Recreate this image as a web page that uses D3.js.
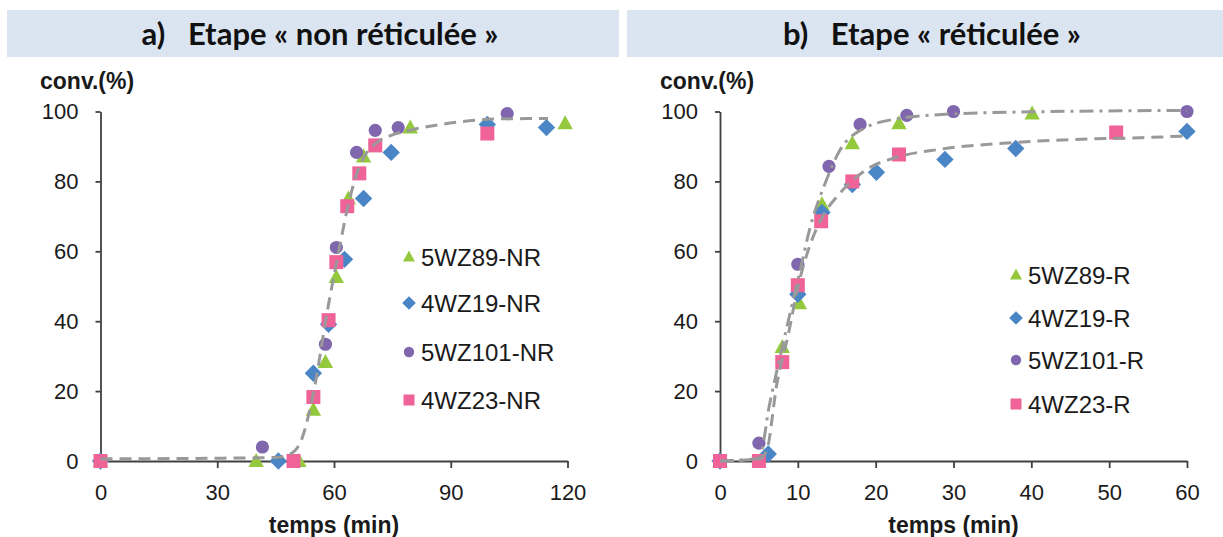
<!DOCTYPE html>
<html>
<head>
<meta charset="utf-8">
<script src="https://cdn.jsdelivr.net/npm/d3@7"></script>
<style>
  html, body { margin: 0; padding: 0; background: #ffffff; }
  svg { display: block; }
  text { white-space: pre; }
</style>
</head>
<body>
<svg id="chart" width="1223" height="537"></svg>
<script>
// ---------------- DATA ----------------
// Panel a) "non réticulée"  : [temps (min), conv. (%)]
const nr5WZ89  = [[0,0],[40,0],[51,0],[54.7,14.6],[57.8,28.3],[60.6,52.6],[63.7,75.1],[67.6,87.1],[79.6,95.4],[119.4,96.6]];
const nr4WZ19  = [[0,0],[45.7,0],[54.7,25.1],[58.6,39.1],[62.7,57.7],[67.6,75.1],[74.7,88.3],[99.4,96.3],[114.6,95.4]];
const nr5WZ101 = [[0,0],[41.6,4.0],[57.8,33.4],[60.6,61.1],[65.8,88.3],[70.6,94.6],[76.5,95.4],[104.5,99.4]];
const nr4WZ23  = [[0,0],[49.6,0],[54.7,18.3],[58.6,40.3],[60.6,56.9],[63.4,72.9],[66.5,82.3],[70.6,90.3],[99.4,93.7]];
// fitted curve drawn in panel a) (dashed)
const nrFit    = [[0,0.6],[30,0.8],[45,1.0],[48,1.6],[51,4.5],[54.7,19.4],[58.3,43],[61.4,61],[63.5,72.5],[65.8,82],[68,87.5],[70.9,91],[75,93.3],[79.4,94.6],[91.4,96.9],[103,97.9],[115,98.0]];

// Panel b) "réticulée"
const r5WZ89   = [[0,0],[8.0,32.6],[10.2,45.1],[13.1,73.4],[17.0,90.9],[23.0,96.6],[40.1,99.4]];
const r4WZ19   = [[0,0],[6.2,2.0],[10.0,47.7],[13.1,71.1],[17.0,79.1],[20.1,82.6],[28.9,86.3],[38.0,89.4],[60.0,94.3]];
const r5WZ101  = [[0,0],[5.0,5.1],[10.0,56.3],[14.0,84.3],[18.0,96.3],[24.0,98.9],[30.0,100],[60.0,100]];
const r4WZ23   = [[0,0],[5.0,0],[8.0,28.3],[10.0,50.3],[13.0,68.6],[17.0,80.0],[23.0,87.7],[50.9,94.0]];
// fitted curves drawn in panel b)
const rFitDashDot = [[0,0],[5,0.8],[6.4,16.6],[8,32.6],[10.3,54.6],[11.6,67],[13.5,79.4],[15.4,88.9],[18,94.6],[23,98],[30,99.3],[40,99.9],[60,100.3]];
const rFitDashed  = [[0,0],[5,0.5],[6,3],[7.3,22],[8.8,36.5],[10,49.7],[11.6,62],[13.2,70],[15.4,76.6],[18.9,83.5],[22.7,86.9],[28.3,89.2],[36.9,91],[45.4,92],[54,92.5],[60,93]];

const nrNames = ["5WZ89-NR","4WZ19-NR","5WZ101-NR","4WZ23-NR"];
const rNames  = ["5WZ89-R","4WZ19-R","5WZ101-R","4WZ23-R"];

const nrXTicks = [0,30,60,90,120];
const rXTicks  = [0,10,20,30,40,50,60];
const yTicks   = [0,20,40,60,80,100];

const titleA = "a)   Etape « non réticulée »";
const titleB = "b)   Etape « réticulée »";
const yLabel = "conv.(%)";
const xLabel = "temps (min)";

// ---------------- STYLE ----------------
const colors  = ["#94c93d","#4a86c6","#7f66ad","#ef6399"];
const shapes  = ["triangle","diamond","circle","square"];
const fitColor = "#999999";

const svg = d3.select("#chart");

function markerPath(shape, s) {
  if (shape === "triangle") return `M0,${-s*0.58}L${s*0.55},${s*0.42}L${-s*0.55},${s*0.42}Z`;
  if (shape === "diamond")  return `M0,${-s*0.62}L${s*0.62},0L0,${s*0.62}L${-s*0.62},0Z`;
  if (shape === "square")   return `M${-s/2},${-s/2}h${s}v${s}h${-s}Z`;
  return d3.symbol().type(d3.symbolCircle).size(Math.PI*(s*0.47)*(s*0.47))();
}

function drawPanel(cfg) {
  const g = svg.append("g");
  // header band
  g.append("rect").attr("x", cfg.band[0]).attr("y", 10).attr("width", cfg.band[1]-cfg.band[0]).attr("height", 47)
    .attr("fill", "#dbe5f1");
  g.append("text").attr("x", cfg.titleX).attr("y", 45)
    .attr("text-anchor", "middle").attr("font-family", "Lato, 'Open Sans', sans-serif")
    .attr("font-weight", "bold").attr("font-size", 31).attr("fill", "#111111").text(cfg.title);

  const x = d3.scaleLinear().domain(cfg.xDomain).range(cfg.xRange);
  const y = d3.scaleLinear().domain([0,100]).range([461, 111.5]);

  // axes
  const xAxis = d3.axisBottom(x).tickValues(cfg.xTicks).tickSizeInner(7).tickSizeOuter(0).tickPadding(11);
  const yAxis = d3.axisLeft(y).tickValues(yTicks).tickSizeInner(5).tickSizeOuter(0).tickPadding(17);
  const gx = g.append("g").attr("transform", `translate(0,${y(0)})`).call(xAxis);
  const gy = g.append("g").attr("transform", `translate(${x(0)},0)`).call(yAxis);
  [gx, gy].forEach(a => {
    a.selectAll("path, line").attr("stroke", "#404040").attr("stroke-width", 1.8);
    a.selectAll("text").attr("font-family", "'Liberation Sans', Arial, sans-serif")
      .attr("font-size", 22).attr("fill", "#1a1a1a");
  });
  gx.selectAll("text").attr("dy", "0.95em");

  // axis titles
  g.append("text").attr("x", cfg.yLabelX).attr("y", 89)
    .attr("font-family", "'Liberation Sans', Arial, sans-serif").attr("font-weight", "bold")
    .attr("font-size", 23).attr("fill", "#1a1a1a").text(yLabel);
  g.append("text").attr("x", (cfg.xRange[0]+cfg.xRange[1])/2).attr("y", 533)
    .attr("text-anchor", "middle")
    .attr("font-family", "'Liberation Sans', Arial, sans-serif").attr("font-weight", "bold")
    .attr("font-size", 23).attr("fill", "#1a1a1a").text(xLabel);

  // markers
  cfg.series.forEach((data, i) => {
    g.append("g").selectAll("path").data(data).join("path")
      .attr("transform", d => `translate(${x(d[0])},${y(d[1])})`)
      .attr("d", markerPath(shapes[i], 14))
      .attr("fill", colors[i]);
  });

  // fitted curves
  const line = d3.line().x(d => x(d[0])).y(d => y(d[1])).curve(d3.curveMonotoneX);
  cfg.fits.forEach(f => {
    g.append("path").datum(f.data).attr("d", line)
      .attr("fill", "none").attr("stroke", fitColor).attr("stroke-width", 3)
      .attr("stroke-dasharray", f.dash).attr("stroke-linecap", "butt");
  });

  // legend
  cfg.names.forEach((n, i) => {
    const ly = cfg.legendY[i];
    g.append("path").attr("transform", `translate(${cfg.legendX},${ly})`)
      .attr("d", markerPath(shapes[i], 11)).attr("fill", colors[i]);
    g.append("text").attr("x", cfg.legendX + 12).attr("y", ly).attr("dy", "0.36em")
      .attr("font-family", "'Liberation Sans', Arial, sans-serif").attr("font-size", 24)
      .attr("fill", "#1a1a1a").text(n);
  });
}

drawPanel({
  band: [7, 619], title: titleA, titleX: 320,
  xDomain: [0,120], xRange: [100.5, 567.5], xTicks: nrXTicks,
  yLabelX: 40,
  series: [nr5WZ89, nr4WZ19, nr5WZ101, nr4WZ23],
  fits: [{data: nrFit, dash: "12,7"}],
  names: nrNames, legendX: 409, legendY: [257, 303, 352, 400]
});

drawPanel({
  band: [627, 1223], title: titleB, titleX: 932,
  xDomain: [0,60], xRange: [720, 1187], xTicks: rXTicks,
  yLabelX: 660,
  series: [r5WZ89, r4WZ19, r5WZ101, r4WZ23],
  fits: [{data: rFitDashed, dash: "12,7"}, {data: rFitDashDot, dash: "14,6,3,6"}],
  names: rNames, legendX: 1016, legendY: [275, 318, 360, 404]
});
</script>
</body>
</html>
